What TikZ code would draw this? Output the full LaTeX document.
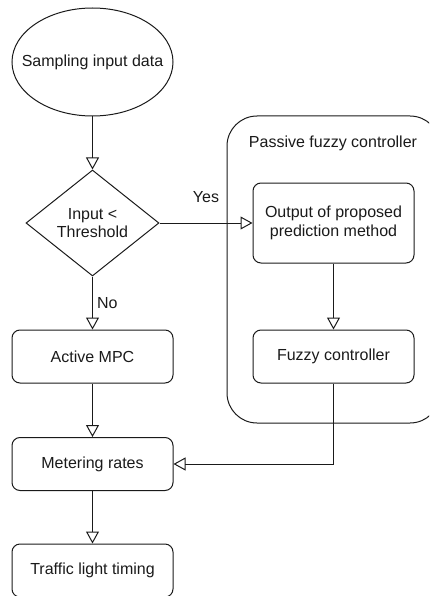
\documentclass[tikz,border=0pt]{standalone}
\usepackage{fontspec}
\setmainfont{Liberation Sans}
\usetikzlibrary{shapes.geometric,arrows.meta}
\definecolor{ink}{HTML}{1A1A1A}
\tikzset{
  base/.style={draw=ink, line width=1pt, text=ink, font=\fontsize{16}{18.5}\selectfont, align=center},
  procbox/.style={base, rectangle, rounded corners=8pt, minimum width=161pt, minimum height=53pt, inner sep=0pt},
  startshape/.style={base, ellipse, minimum width=161pt, minimum height=108pt, inner sep=0pt},
  decision/.style={base, diamond, minimum width=133pt, minimum height=106pt, inner sep=0pt},
  groupbox/.style={draw=ink, line width=1pt, rounded corners=30pt},
  flow/.style={draw=ink, line width=1pt, -{Triangle[open, length=12pt, width=13pt]}},
  lbl/.style={text=ink, font=\fontsize{16}{18.5}\selectfont, inner sep=0pt}
}
\begin{document}
\begin{tikzpicture}[x=1pt,y=-1pt]
  \useasboundingbox (0,0) rectangle (429,596);
  \clip (0,0) rectangle (429,596);

  % grouping frame for the passive branch
  \draw[groupbox] (227,116) rectangle (440,423);
  \node[lbl] (grouptitle) at (333,143) {Passive fuzzy controller};

  % main column
  \node[startshape] (sample) at (92.5,62) {};
  \node[lbl] (sampletext) at (sample) {Sampling input data};
  \node[decision] (check) at (92.5,223) {};
  \node[lbl, align=center] (checktext) at (check) {Input <\\Threshold};
  \node[procbox] (mpc) at (92.5,356.5) {Active MPC};
  \node[procbox] (meter) at (92.5,464) {Metering rates};
  \node[procbox] (lights) at (92.5,570.5) {Traffic light timing};

  % passive branch
  \node[procbox, minimum height=80pt] (predict) at (333.5,223) {Output of proposed\\prediction method};
  \node[procbox] (fuzzy) at (333.5,356.5) {Fuzzy controller};

  % connectors
  \draw[flow] (sample.south) -- (check.north);
  \draw[flow] (check.east) -- node[lbl, midway, yshift=26pt] (yes) {Yes} (predict.west);
  \draw[flow] (check.south) -- node[lbl, midway, anchor=west, xshift=4pt] (no) {No} (mpc.north);
  \draw[flow] (mpc.south) -- (meter.north);
  \draw[flow] (meter.south) -- (lights.north);
  \draw[flow] (predict.south) -- (fuzzy.north);
  \draw[flow] (fuzzy.south) |- (meter.east);
\end{tikzpicture}
\end{document}
